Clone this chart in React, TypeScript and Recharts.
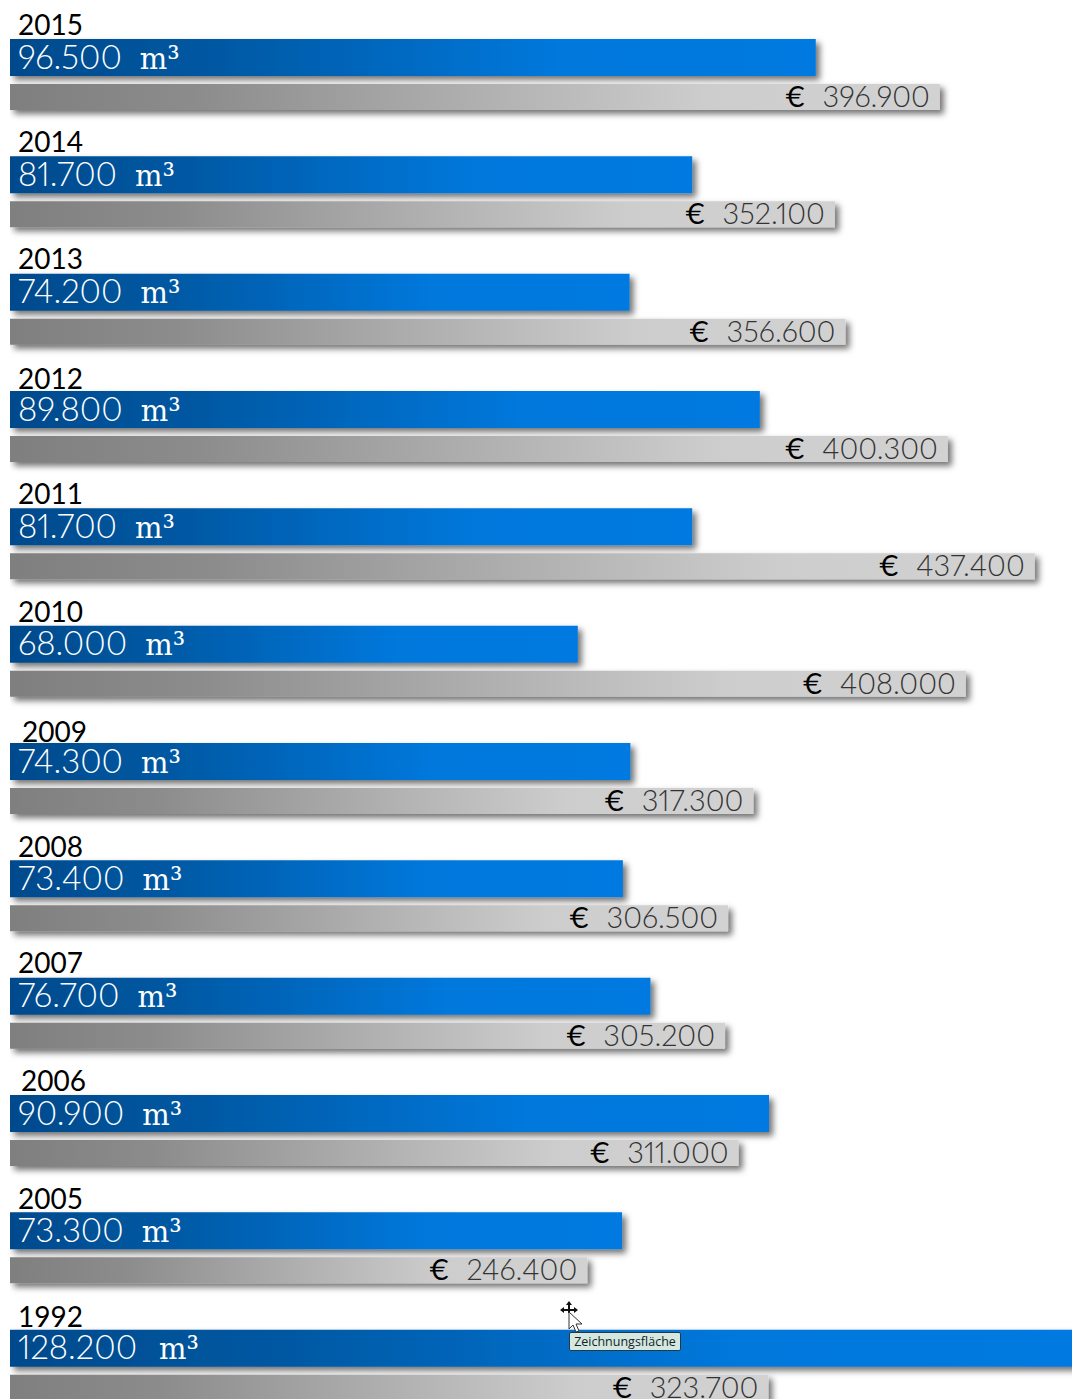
import React from 'react';
import { Bar, BarChart, LabelList, XAxis, YAxis } from 'recharts';

const years = ['2015', '2014', '2013', '2012', '2011', '2010', '2009', '2008', '2007', '2006', '2005', '1992'];
const volumes = [96500, 81700, 74200, 89800, 81700, 68000, 74300, 73400, 76700, 90900, 73300, 128200];
const costs = [396900, 352100, 356600, 400300, 437400, 408000, 317300, 306500, 305200, 311000, 246400, 323700];

const rows = years.map((year, i) => ({ year, volume: volumes[i], cost: costs[i] }));

// Thousands separated with a dot, German style
const formatValue = (value: number) => value.toLocaleString('de-DE');

// The year captions were placed by hand, so a few sit off the regular spot
const yearShiftX: Record<string, number> = { '2009': 4, '2006': 3 };
const yearShiftY: Record<string, number> = { '2012': 2, '2010': 1, '2009': 3, '2008': 1, '2005': 1, '1992': 2 };

const YearTick = ({ y, payload }: any) => (
  <text
    x={18 + (yearShiftX[payload.value] ?? 0)}
    y={y - 40 + (yearShiftY[payload.value] ?? 0)}
    fontFamily="Lato"
    fontSize={28}
    fill="#000"
  >
    {payload.value}
  </text>
);

const VolumeLabel = ({ x, y, height, value }: any) => (
  <text
    x={x + 8}
    y={y + height / 2 + 11}
    fill="#fff"
    fontFamily="Lato"
    fontWeight={300}
    fontSize={33}
    style={{ fontVariantNumeric: 'proportional-nums' }}
  >
    {formatValue(value)}
    <tspan dx={value >= 100000 ? 22 : 18} fontFamily="DejaVu Serif" fontSize={29}>
      m
    </tspan>
    <tspan fontFamily="DejaVu Serif" fontSize={31}>
      ³
    </tspan>
  </text>
);

// Euro sign follows the number, the whole label ends just inside the bar
const CostLabel = ({ x, y, width, height, value }: any) => (
  <text
    x={x + width - 10}
    y={y + height / 2 + 10}
    textAnchor="end"
    fontFamily="Lato"
    style={{ fontVariantNumeric: 'proportional-nums' }}
  >
    <tspan fill="#000" fontSize={28}>
      €
    </tspan>
    <tspan dx={17} fill="#333" fontWeight={300} fontSize={29}>
      {formatValue(value)}
    </tspan>
  </text>
);

const CursorHint = () => (
  <div style={{ position: 'absolute', left: 556, top: 1300, width: 126, height: 52 }}>
    <svg width={30} height={34} style={{ position: 'absolute', left: 0, top: 0 }}>
      <path d="M13 1 L16 5 L14 5 L14 9 L18 9 L18 7 L22 10 L18 13 L18 11 L14 11 L14 13 L12 13 L12 11 L8 11 L8 13 L4 10 L8 7 L8 9 L12 9 L12 5 L10 5 Z" fill="#111" />
      <path d="M13 12 L13 29 L17 25 L20 32 L23 31 L20 24 L26 24 Z" fill="#fff" stroke="#333" strokeWidth={1} />
    </svg>
    <div
      style={{
        position: 'absolute',
        left: 13,
        top: 32,
        width: 110,
        height: 17,
        background: '#d4e8df',
        border: '1px solid #24384a',
        borderRadius: 2,
        fontFamily: 'Open Sans',
        fontSize: 12.5,
        lineHeight: '17px',
        textAlign: 'center',
        color: '#14222a',
        whiteSpace: 'nowrap',
      }}
    >
      Zeichnungsfläche
    </div>
  </div>
);

export default function App() {
  return (
    <div style={{ position: 'absolute', left: 0, top: 0, width: 1072, height: 1399, overflow: 'hidden', background: '#fff' }}>
      <BarChart
        width={1072}
        height={1424}
        data={rows}
        layout="vertical"
        barGap={8}
        margin={{ top: 16, right: 0, bottom: 0, left: 9 }}
      >
        <defs>
          <linearGradient id="volumeFill" x1="0" y1="0" x2="1" y2="0">
            <stop offset="0" stopColor="#004a8c" />
            <stop offset="0.25" stopColor="#0058a2" />
            <stop offset="0.68" stopColor="#0078dc" />
            <stop offset="1" stopColor="#007ae0" />
          </linearGradient>
          <linearGradient id="costFill" x1="0" y1="0" x2="1" y2="0">
            <stop offset="0" stopColor="#7f7f7f" />
            <stop offset="0.2" stopColor="#8c8c8c" />
            <stop offset="0.75" stopColor="#cdcdcd" />
            <stop offset="1" stopColor="#d2d2d2" />
          </linearGradient>
          <filter id="barShadow" x="-2%" y="-20%" width="104%" height="170%">
            <feDropShadow dx={4} dy={4} stdDeviation={3} floodColor="#000" floodOpacity={0.55} />
          </filter>
        </defs>
        <XAxis xAxisId="volume" type="number" hide domain={[0, 127186]} allowDataOverflow />
        <XAxis xAxisId="cost" type="number" hide domain={[0, 453300]} allowDataOverflow />
        <YAxis
          type="category"
          dataKey="year"
          width={1}
          interval={0}
          axisLine={false}
          tickLine={false}
          tick={YearTick}
        />
        <Bar
          dataKey="volume"
          xAxisId="volume"
          barSize={37}
          fill="url(#volumeFill)"
          filter="url(#barShadow)"
          isAnimationActive={false}
        >
          <LabelList dataKey="volume" content={VolumeLabel} />
        </Bar>
        <Bar
          dataKey="cost"
          xAxisId="cost"
          barSize={26}
          fill="url(#costFill)"
          filter="url(#barShadow)"
          isAnimationActive={false}
        >
          <LabelList dataKey="cost" content={CostLabel} />
        </Bar>
      </BarChart>
      <CursorHint />
    </div>
  );
}
